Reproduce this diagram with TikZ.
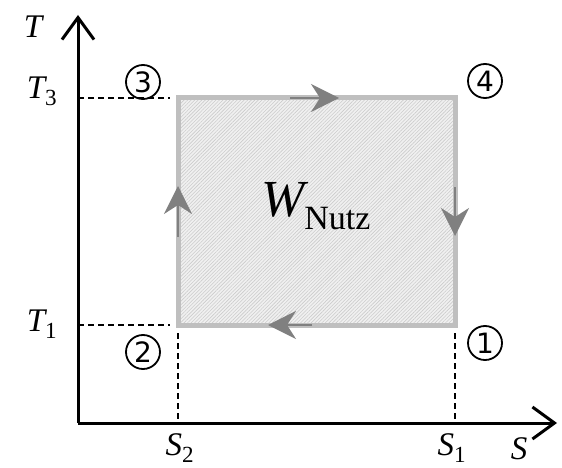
\documentclass[tikz,border=0pt]{standalone}
\usepackage{fontspec}
\setmainfont{Liberation Serif}
\newfontfamily\circfont{DejaVu Sans}
\usetikzlibrary{arrows.meta,patterns.meta}
\begin{document}
\begin{tikzpicture}[x=1pt,y=-1pt,
  axis/.style={line width=3pt,-{Straight Barb[length=22pt,width=32pt,line width=3pt]}},
  dashline/.style={dashed,line width=1.2pt,dash pattern=on 6pt off 4pt},
  flow/.style={draw=gray,line width=2pt,-{Stealth[length=28pt,width=28pt,inset=9pt]}},
  lab/.style={font=\fontsize{33}{36}\selectfont\itshape,inner sep=0pt},
  circ/.style={circle,draw,line width=1.8pt,minimum size=34pt,inner sep=0pt,
    font=\circfont\fontsize{28}{30}\selectfont}]
\useasboundingbox (0,0) rectangle (562,468);
\coordinate (O) at (78,423);
\coordinate (Ytip) at (78,15);
\coordinate (Xtip) at (557,423);
\coordinate (A) at (455,325);
\coordinate (B) at (178,325);
\coordinate (C) at (178,98);
\coordinate (D) at (455,98);
% cycle area
\fill[gray!12] (B) rectangle (D);
\fill[pattern={Lines[angle=45,distance=2.5pt,line width=0.6pt]},pattern color=gray!40] (B) rectangle (D);
\draw[gray!50,line width=5pt] (B) rectangle (D);
% axes
\draw[axis] (O) -- (Ytip);
\draw[axis] (O) -- (Xtip);
% dashed guides
\coordinate (T3a) at (78,98); \coordinate (T3b) at (170,98);
\coordinate (T1a) at (78,325); \coordinate (T1b) at (170,325);
\coordinate (S2a) at (178,333); \coordinate (S2b) at (178,423);
\coordinate (S1a) at (455,333); \coordinate (S1b) at (455,423);
\draw[dashline] (T3a) -- (T3b);
\draw[dashline] (T1a) -- (T1b);
\draw[dashline] (S2a) -- (S2b);
\draw[dashline] (S1a) -- (S1b);
% flow arrows
\coordinate (f1a) at (290,98); \coordinate (f1b) at (339,98);
\coordinate (f2a) at (455,187); \coordinate (f2b) at (455,236);
\coordinate (f3a) at (312,325); \coordinate (f3b) at (268,325);
\coordinate (f4a) at (178,237); \coordinate (f4b) at (178,186);
\draw[flow] (f1a) -- (f1b);
\draw[flow] (f2a) -- (f2b);
\draw[flow] (f3a) -- (f3b);
\draw[flow] (f4a) -- (f4b);
% labels
\node[lab] (lT) at (33,27) {T};
\node[lab] (lT3) at (42,91) {T\textsubscript{\upshape 3}};
\node[lab] (lT1) at (42,324) {T\textsubscript{\upshape 1}};
\node[lab] (lS2) at (180,448) {S\textsubscript{\upshape 2}};
\node[lab] (lS1) at (452,448) {S\textsubscript{\upshape 1}};
\node[lab] (lS) at (519,449) {S};
\node[inner sep=0pt] (W) at (316,206) {\fontsize{52}{56}\selectfont\itshape W\textsubscript{\upshape\fontsize{34}{36}\selectfont Nutz}};
\node[circ] (n3) at (143,82) {3};
\node[circ] (n4) at (485,81) {4};
\node[circ] (n2) at (143,352) {2};
\node[circ] (n1) at (485,343) {1};
\end{tikzpicture}
\end{document}
